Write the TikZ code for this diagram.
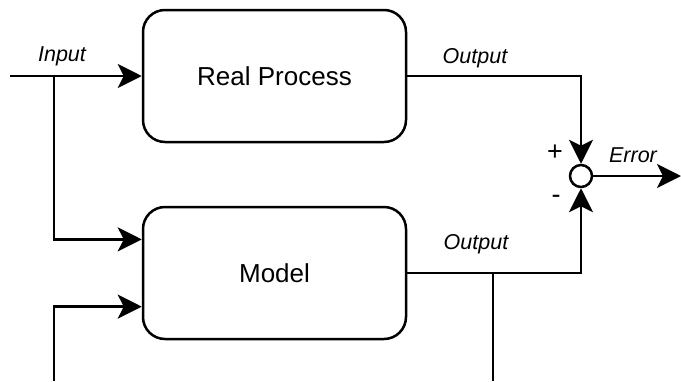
\documentclass[tikz,border=0pt]{standalone}
\usepackage{fontspec}
\setmainfont{Liberation Sans}
\usetikzlibrary{arrows.meta,calc}
\begin{document}
\begin{tikzpicture}[x=1pt,y=-1pt,
  line width=2.5pt,
  block/.style={draw,rounded corners=22pt,minimum width=263pt,minimum height=132pt,
    inner sep=0pt,font=\fontsize{26}{30}\selectfont},
  sumnode/.style={draw,circle,minimum size=22pt,inner sep=0pt},
  arr/.style={-{Stealth[length=24pt,width=24pt,inset=6pt]}},
  lbl/.style={font=\fontsize{21.5}{25}\selectfont\itshape},
  sign/.style={font=\fontsize{27}{30}\selectfont}]
\useasboundingbox (0,0) rectangle (681,381);

% blocks and summing junction
\node[block] (rp) at (274.5,76) {Real Process};
\node[block] (model) at (274.5,273) {Model};
\node[sumnode] (sum) at (581,176) {};

% free ends and branch points
\coordinate (in) at (10,76);
\coordinate (j1) at (54,76);
\coordinate (in2) at (54,381);
\coordinate (b1) at (493,273);
\coordinate (b2) at (493,381);
\coordinate (err) at (681,176);
\coordinate (mA) at ($(model.north west)!0.25!(model.south west)$);
\coordinate (mB) at ($(model.north west)!0.75!(model.south west)$);

% signal lines
\draw[arr] (in) -- (rp.west);
\draw[arr] (j1) |- (mA);
\draw[arr] (in2) |- (mB);
\draw[arr] (rp.east) -| (sum.north);
\draw[arr] (model.east) -| (sum.south);
\draw (b1) -- (b2);
\draw[arr] (sum.east) -- (err);

% labels
\node[lbl] (lin) at (62,56) {Input};
\node[lbl] (lout1) at (475,58) {Output};
\node[lbl] (lout2) at (476,244) {Output};
\node[lbl] (lerr) at (633,155) {Error};
\node[sign] (lplus) at (555,153) {+};
\node[sign] (lminus) at (556,199) {-};
\end{tikzpicture}
\end{document}
